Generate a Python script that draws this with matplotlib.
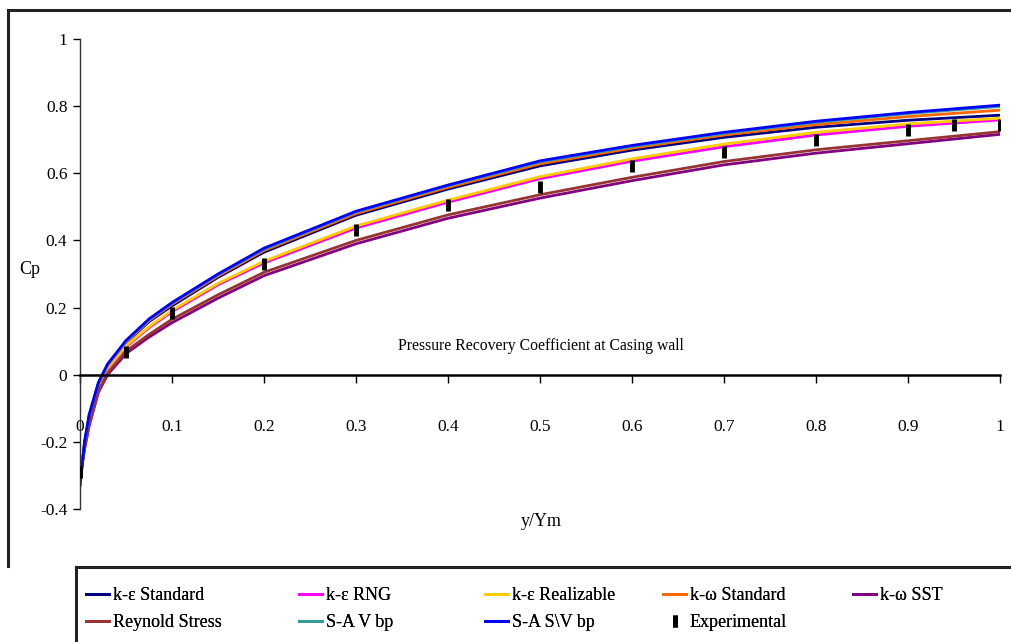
import matplotlib
matplotlib.use("Agg")
import matplotlib.pyplot as plt
from matplotlib.lines import Line2D

# Station positions along the casing wall (y/Ym)
x_pos = [0.0, 0.005, 0.01, 0.02, 0.03, 0.05, 0.075, 0.1, 0.15, 0.2,
         0.3, 0.4, 0.5, 0.6, 0.7, 0.8, 0.9, 1.0]

# Pressure recovery coefficient for each turbulence model
cp_ke_standard = [-0.32, -0.205, -0.125, -0.03, 0.025, 0.095, 0.158, 0.205, 0.29, 0.365,
                  0.475, 0.553, 0.622, 0.669, 0.707, 0.737, 0.758, 0.773]
cp_ke_rng = [-0.32, -0.21, -0.135, -0.038, 0.018, 0.083, 0.14, 0.188, 0.268, 0.333,
             0.437, 0.514, 0.584, 0.636, 0.679, 0.714, 0.740, 0.759]
cp_ke_realizable = [-0.32, -0.21, -0.133, -0.036, 0.02, 0.086, 0.143, 0.192, 0.272, 0.338,
                    0.443, 0.52, 0.59, 0.643, 0.687, 0.722, 0.747, 0.764]
cp_kw_standard = [-0.32, -0.203, -0.123, -0.028, 0.027, 0.097, 0.161, 0.21, 0.294, 0.37,
                  0.48, 0.558, 0.628, 0.675, 0.714, 0.745, 0.769, 0.788]
cp_kw_sst = [-0.30, -0.22, -0.152, -0.052, 0.0, 0.063, 0.112, 0.155, 0.228, 0.295,
             0.39, 0.466, 0.526, 0.578, 0.625, 0.66, 0.688, 0.716]
cp_reynolds = [-0.31, -0.218, -0.148, -0.048, 0.005, 0.07, 0.12, 0.165, 0.238, 0.305,
               0.40, 0.476, 0.536, 0.588, 0.635, 0.670, 0.697, 0.724]
cp_sa_vbp = [-0.33, -0.2, -0.12, -0.025, 0.03, 0.1, 0.164, 0.213, 0.298, 0.374,
             0.485, 0.563, 0.634, 0.680, 0.719, 0.752, 0.778, 0.799]
cp_sa_svbp = [-0.33, -0.198, -0.118, -0.023, 0.032, 0.102, 0.166, 0.215, 0.300, 0.377,
              0.487, 0.565, 0.637, 0.683, 0.722, 0.755, 0.781, 0.803]

# Measured values
x_exp = [0.0, 0.05, 0.1, 0.2, 0.3, 0.4, 0.5, 0.6, 0.7, 0.8, 0.9, 0.95, 1.0]
cp_exp = [-0.29, 0.068, 0.184, 0.33, 0.43, 0.505, 0.56, 0.622, 0.662, 0.70, 0.729, 0.744, 0.744]

series = [
    ("k-\u03b5 Standard", cp_ke_standard, "#000080"),
    ("k-\u03b5 RNG", cp_ke_rng, "#FF00FF"),
    ("k-\u03b5 Realizable", cp_ke_realizable, "#FFCC00"),
    ("k-\u03c9 Standard", cp_kw_standard, "#FF6600"),
    ("k-\u03c9 SST", cp_kw_sst, "#800080"),
    ("Reynold Stress", cp_reynolds, "#993333"),
    ("S-A V bp", cp_sa_vbp, "#339999"),
    ("S-A S\\V bp", cp_sa_svbp, "#0000FF"),
]

x_ticks = [0, 0.1, 0.2, 0.3, 0.4, 0.5, 0.6, 0.7, 0.8, 0.9, 1]
x_tick_labels = ["0", "0.1", "0.2", "0.3", "0.4", "0.5", "0.6", "0.7", "0.8", "0.9", "1"]
y_ticks = [-0.4, -0.2, 0, 0.2, 0.4, 0.6, 0.8, 1]
y_tick_labels = ["-0.4", "-0.2", "0", "0.2", "0.4", "0.6", "0.8", "1"]

plt.rcParams["font.family"] = ["Liberation Serif", "DejaVu Serif"]

W, H = 1012, 642
fig = plt.figure(figsize=(W / 100, H / 100), dpi=100)
fig.patch.set_facecolor("white")

ax = fig.add_axes([80 / W, (H - 509) / H, 920 / W, 470 / H])
ax.set_xlim(0, 1)
ax.set_ylim(-0.4, 1)

handles = []
for name, vals, col in series:
    h, = ax.plot(x_pos, vals, color=col, lw=2.0, label=name, solid_joinstyle="round")
    handles.append(h)
hexp, = ax.plot(x_exp, cp_exp, ls="none", marker="|", ms=8, mew=3.5,
                color="black", label="Experimental", zorder=5)
handles.append(hexp)

# Axis styling: x axis through Cp = 0, ticks pointing down
ax.spines["top"].set_visible(False)
ax.spines["right"].set_visible(False)
ax.spines["bottom"].set_position(("data", 0))
ax.spines["bottom"].set_linewidth(1.8)
ax.spines["left"].set_linewidth(1.0)
ax.spines["left"].set_color("#333333")
ax.set_xticks(x_ticks)
ax.set_xticklabels(x_tick_labels)
ax.set_yticks(y_ticks)
ax.set_yticklabels(y_tick_labels)
ax.tick_params(axis="x", direction="out", length=6, width=1.0, pad=26, labelsize=12.5)
ax.tick_params(axis="y", direction="out", length=5, width=1.0, pad=4, labelsize=12.5)

fig.text(30 / W, 1 - 270 / H, "Cp", fontsize=13, ha="center", va="center")
fig.text(541 / W, 1 - 522 / H, "y/Ym", fontsize=13, ha="center", va="center")
fig.text(541 / W, 1 - 346 / H, "Pressure Recovery Coefficient at Casing wall",
         fontsize=11.3, ha="center", va="center")

# Outer frame and legend box
frame_kw = dict(color="#222222", lw=2.2, transform=fig.transFigure, clip_on=False)
fig.add_artist(Line2D([8 / W, 1.0], [1 - 10 / H, 1 - 10 / H], **frame_kw))
fig.add_artist(Line2D([8 / W, 8 / W], [1 - 10 / H, 1 - 566 / H], **frame_kw))
fig.add_artist(Line2D([76 / W, 1.0], [1 - 567 / H, 1 - 567 / H], **frame_kw))
fig.add_artist(Line2D([76 / W, 76 / W], [1 - 567 / H, 0.0], **frame_kw))

# Legend: five evenly placed columns of two rows each
legend_columns = [[0, 5], [1, 6], [2, 7], [3, 8], [4]]
column_text_x = [113, 326, 512, 690, 880]
leg_fs = 13
hl, htp = 1.3, 0.2
offset = (hl + htp) * leg_fs * 100 / 72
for cols, tx in zip(legend_columns, column_text_x):
    leg = fig.legend([handles[i] for i in cols], [handles[i].get_label() for i in cols],
                     ncol=1, loc="upper left",
                     bbox_to_anchor=((tx - offset) / W, 1 - 587 / H),
                     frameon=False, fontsize=leg_fs, handlelength=hl, handletextpad=htp,
                     labelspacing=0.58, borderpad=0.0, borderaxespad=0.0)
    fig.add_artist(leg)

fig.savefig("out.png", dpi=100)
